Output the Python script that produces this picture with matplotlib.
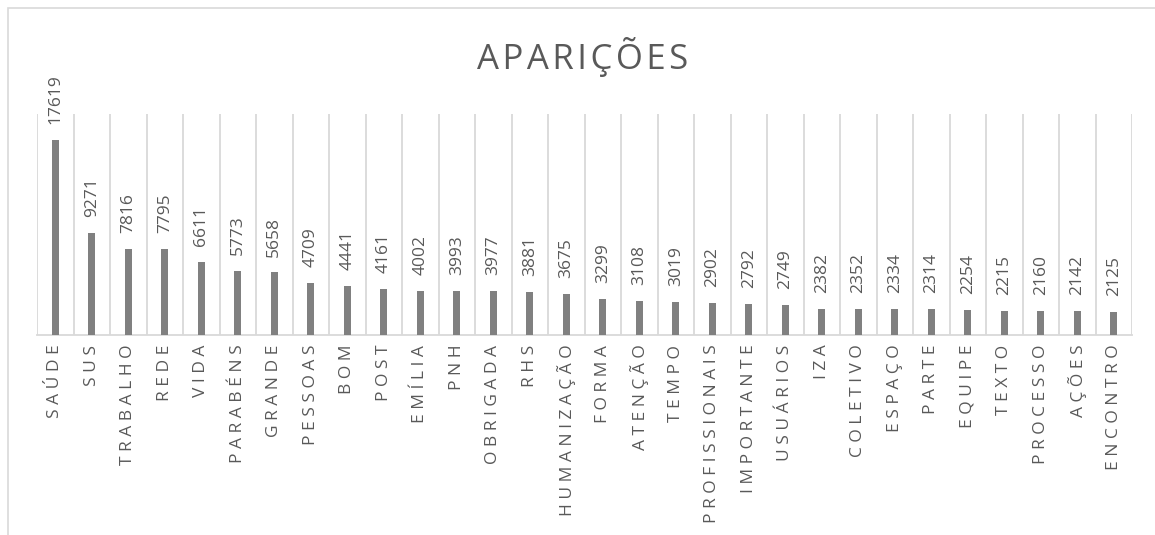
import matplotlib.pyplot as plt
from matplotlib.patches import Rectangle

palavras = ['SAÚDE', 'SUS', 'TRABALHO', 'REDE', 'VIDA', 'PARABÉNS', 'GRANDE',
            'PESSOAS', 'BOM', 'POST', 'EMÍLIA', 'PNH', 'OBRIGADA', 'RHS',
            'HUMANIZAÇÃO', 'FORMA', 'ATENÇÃO', 'TEMPO', 'PROFISSIONAIS',
            'IMPORTANTE', 'USUÁRIOS', 'IZA', 'COLETIVO', 'ESPAÇO', 'PARTE',
            'EQUIPE', 'TEXTO', 'PROCESSO', 'AÇÕES', 'ENCONTRO']
aparicoes = [17619, 9271, 7816, 7795, 6611, 5773, 5658, 4709, 4441, 4161,
             4002, 3993, 3977, 3881, 3675, 3299, 3108, 3019, 2902, 2792,
             2749, 2382, 2352, 2334, 2314, 2254, 2215, 2160, 2142, 2125]

texto = '#595959'
grade = '#D9D9D9'
fonte = ['Open Sans', 'DejaVu Sans']
plt.rcParams['font.family'] = fonte

fig = plt.figure(figsize=(11.55, 5.35), dpi=100)
ax = fig.add_axes([37 / 1155, 1 - 335 / 535, 1095 / 1155, 221 / 535])

x = range(len(palavras))
barras = ax.bar(x, aparicoes, width=0.2, color='#808080', zorder=3)

for xi, v in zip(x, aparicoes):
    ax.annotate(str(v), (xi, v), xytext=(0, 11.5), textcoords='offset points',
                rotation=90, ha='center', va='bottom', fontsize=12.5,
                color=texto)

ax.set_xlim(-0.5, len(palavras) - 0.5)
ax.set_ylim(0, 20000)
ax.set_yticks([])
ax.set_xticks(list(x))
ax.set_xticklabels([' '.join(p) for p in palavras], rotation=90,
                   fontsize=12.5, color=texto, ha='center', va='top')
ax.tick_params(axis='x', length=0, pad=7)

# linhas verticais entre categorias
for b in range(len(palavras) + 1):
    ax.axvline(b - 0.5, color=grade, lw=1.3, zorder=1)

for s in ['left', 'right', 'top']:
    ax.spines[s].set_visible(False)
ax.spines['bottom'].set_color(grade)
ax.spines['bottom'].set_linewidth(1.3)

fig.text(583 / 1155, 1 - 57 / 535, '\u200a'.join('APARIÇÕES'), ha='center',
         va='center', fontsize=25, color=texto)

# moldura do gráfico
fig.add_artist(Rectangle((7.5 / 1155, -0.1), 1.2, 1.1 - 8.5 / 535,
                         transform=fig.transFigure, fill=False,
                         edgecolor=grade, lw=1.2))

fig.savefig('out.png', dpi=100)
